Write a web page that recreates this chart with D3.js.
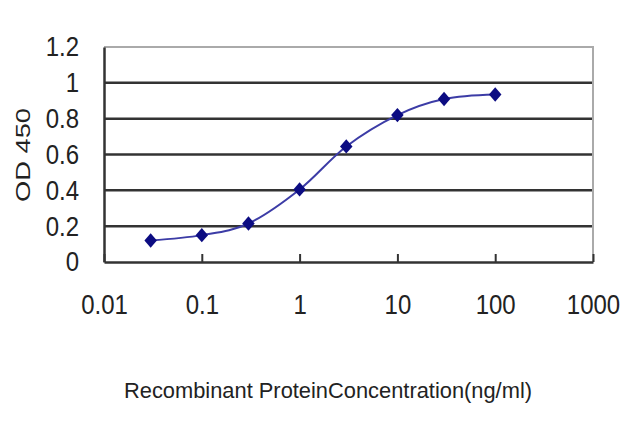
<!DOCTYPE html>
<html>
<head>
<meta charset="utf-8">
<script src="https://cdn.jsdelivr.net/npm/d3@7"></script>
<style>
  body { margin: 0; background: #fff; }
  svg { display: block; }
</style>
</head>
<body>
<div id="chart"></div>
<script>
// concentrations (ng/ml) and OD 450 readings
const concentrations = [0.03, 0.1, 0.3, 1, 3, 10, 30, 100];
const odValues = [0.12, 0.15, 0.215, 0.405, 0.645, 0.82, 0.91, 0.935];
const xTicks = [0.01, 0.1, 1, 10, 100, 1000];
const yTicks = [0, 0.2, 0.4, 0.6, 0.8, 1, 1.2];
const xTitle = "Recombinant ProteinConcentration(ng/ml)";
const yTitle = "OD 450";

const width = 640, height = 427;
const margin = {top: 47, right: 47, bottom: 165, left: 104};
const plotW = width - margin.left - margin.right;
const plotH = height - margin.top - margin.bottom;

const svg = d3.select("#chart").append("svg")
    .attr("width", width)
    .attr("height", height)
    .style("font-family", "Arial, 'Liberation Sans', sans-serif");

const g = svg.append("g").attr("transform", `translate(${margin.left},${margin.top})`);

const x = d3.scaleLog().domain([0.01, 1000]).range([0, plotW]);
const y = d3.scaleLinear().domain([0, 1.2]).range([plotH, 0]);

// horizontal gridlines
g.append("g")
    .selectAll("line")
    .data(yTicks.filter(d => d > 0 && d < 1.2))
    .join("line")
    .attr("x1", 0).attr("x2", plotW)
    .attr("y1", d => y(d)).attr("y2", d => y(d))
    .attr("stroke", "#333").attr("stroke-width", 2.5);

// top and right frame (light grey)
g.append("path")
    .attr("d", `M0,${y(1.2)}H${plotW}V${plotH}`)
    .attr("fill", "none").attr("stroke", "#aaa").attr("stroke-width", 2);

// y axis, labels a little stretched like the original
const yAxis = g.append("g")
    .call(d3.axisLeft(y).tickValues(yTicks).tickFormat(d3.format("")).tickSize(0).tickPadding(25));
yAxis.select(".domain").attr("stroke", "#333").attr("stroke-width", 2.5);
yAxis.selectAll("text")
    .attr("font-size", 24).attr("fill", "#222")
    .attr("transform", "scale(1,1.15)");

// x axis, ticks pointing inside
const xAxis = g.append("g")
    .attr("transform", `translate(0,${plotH})`)
    .call(d3.axisBottom(x).tickValues(xTicks).tickFormat(d => String(d)).tickSizeInner(-8).tickSizeOuter(0));
xAxis.select(".domain").attr("stroke", "#333").attr("stroke-width", 2.5);
xAxis.selectAll(".tick line").attr("stroke", "#333").attr("stroke-width", 2);
xAxis.selectAll("text")
    .attr("font-size", 24).attr("fill", "#222")
    .attr("y", 0).attr("dy", null)
    .attr("transform", "translate(0,52) scale(1,1.15)");

// smoothed line
const line = d3.line()
    .x((d, i) => x(concentrations[i]))
    .y(d => y(d))
    .curve(d3.curveCardinal.tension(0));

g.append("path")
    .datum(odValues)
    .attr("d", line)
    .attr("fill", "none")
    .attr("stroke", "#3c3ca6")
    .attr("stroke-width", 2);

// diamond markers
const diamond = d3.symbol().type(d3.symbolSquare).size(78);
g.selectAll(".marker")
    .data(odValues)
    .join("path")
    .attr("class", "marker")
    .attr("d", diamond)
    .attr("transform", (d, i) => `translate(${x(concentrations[i])},${y(d)}) scale(1,1.15) rotate(45)`)
    .attr("fill", "#0c0c82");

// axis titles
svg.append("text")
    .attr("transform", "translate(328,398) scale(1,1.1)")
    .attr("text-anchor", "middle")
    .attr("font-size", 20)
    .attr("fill", "#222")
    .attr("textLength", 408)
    .attr("lengthAdjust", "spacingAndGlyphs")
    .text(xTitle);

svg.append("text")
    .attr("transform", "translate(30,155) rotate(-90)")
    .attr("text-anchor", "middle")
    .attr("font-size", 21)
    .attr("fill", "#222")
    .attr("textLength", 94)
    .attr("lengthAdjust", "spacingAndGlyphs")
    .text(yTitle);
</script>
</body>
</html>
